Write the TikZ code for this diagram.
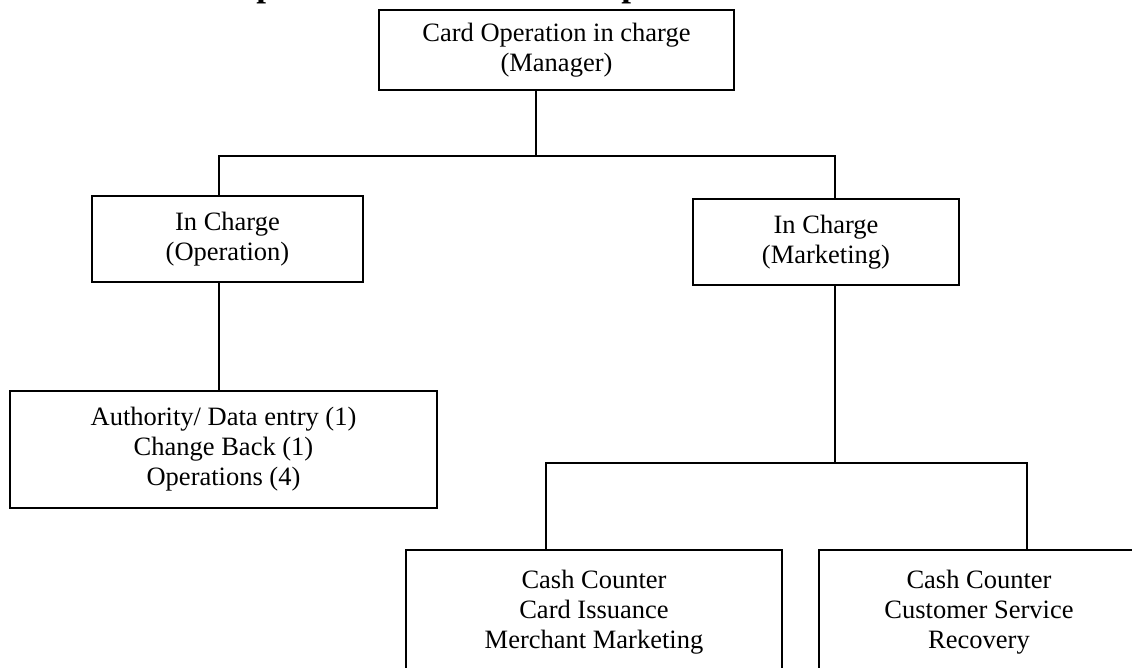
\documentclass[tikz,border=0pt]{standalone}
\usepackage{fontspec}
\setmainfont{Liberation Serif}
\begin{document}
\begin{tikzpicture}[x=1pt,y=-1pt,
  orgbox/.style={draw, line width=1.6pt, inner sep=0pt, align=center,
    font=\fontsize{26.5}{30}\selectfont},
  link/.style={line width=1.6pt},
  headfont/.style={font=\bfseries\fontsize{35}{40}\selectfont, inner sep=0pt, anchor=base}]
\useasboundingbox (0,0) rectangle (1132,667);

% heading line, running above the page edge
\node[headfont] (h1) at (266,-4) {p};
\node[headfont] (h2) at (631,-4) {p};

% boxes
\node[orgbox, minimum width=355pt, minimum height=80pt] (mgr) at (556.5,50)
  {Card Operation in charge\\(Manager)};
\node[orgbox, minimum width=271pt, minimum height=86pt] (ops) at (227.5,239)
  {In Charge\\(Operation)};
\node[orgbox, minimum width=266pt, minimum height=86pt] (mkt) at (826,242)
  {In Charge\\(Marketing)};
\node[orgbox, minimum width=427pt, minimum height=117pt] (auth) at (223.5,449.5)
  {Authority/ Data entry (1)\\Change Back (1)\\Operations (4)};
\node[orgbox, minimum width=376pt, minimum height=124pt] (cc1) at (594,612)
  {Cash Counter\\Card Issuance\\Merchant Marketing};
\node[orgbox, minimum width=320pt, minimum height=124pt] (cc2) at (979,612)
  {Cash Counter\\Customer Service\\Recovery};

% junction points of the connectors
\coordinate (jm) at (535.7,156);
\coordinate (jo) at (219,156);
\coordinate (jk) at (835,156);
\coordinate (lk) at (835,463);
\coordinate (l1) at (546,463);
\coordinate (l2) at (1027,463);

% connectors
\draw[link] (jm |- mgr.south) -- (jm);
\draw[link] (jo |- ops.north) -- (jo) -- (jk) -- (jk |- mkt.north);
\draw[link] (jo |- ops.south) -- (jo |- auth.north);
\draw[link] (lk |- mkt.south) -- (lk);
\draw[link] (l1 |- cc1.north) -- (l1) -- (l2) -- (l2 |- cc2.north);
\end{tikzpicture}
\end{document}
